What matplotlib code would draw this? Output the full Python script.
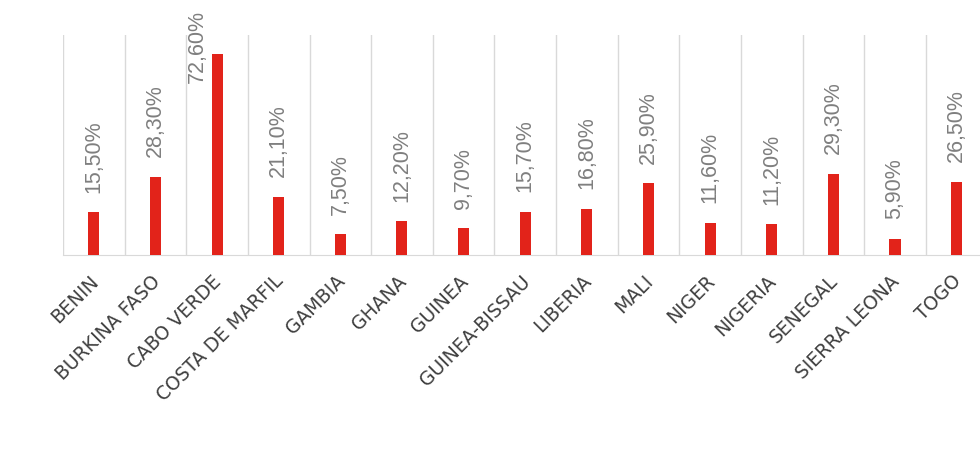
import matplotlib.pyplot as plt
import matplotlib.transforms as mtransforms

countries = ["BENIN", "BURKINA FASO", "CABO VERDE", "COSTA DE MARFIL", "GAMBIA",
             "GHANA", "GUINEA", "GUINEA-BISSAU", "LIBERIA", "MALI", "NIGER",
             "NIGERIA", "SENEGAL", "SIERRA LEONA", "TOGO"]
values = [15.5, 28.3, 72.6, 21.1, 7.5, 12.2, 9.7, 15.7, 16.8, 25.9, 11.6,
          11.2, 29.3, 5.9, 26.5]
labels = [f"{v:.2f}%".replace(".", ",") for v in values]

fig = plt.figure(figsize=(9.8, 4.5), dpi=100)
ax = fig.add_axes([63 / 980, 195 / 450, 917 / 980, 220 / 450])

x = range(len(countries))
ax.bar(x, values, width=0.18, color="#E2231A", zorder=3)

# category separators
for b in range(len(countries) + 1):
    ax.axvline(b - 0.5, color="#d9d9d9", lw=1, zorder=1)

top = max(values)
for xi, v, lab in zip(x, values, labels):
    # the tallest label doesn't fit above the bar, so it goes beside it
    off = (-14.5, -21) if v == top else (0, 14)
    ax.annotate(lab, (xi, v), xytext=off, textcoords="offset points",
                rotation=90, ha="center", va="bottom", fontsize=15.5,
                color="#7f7f7f", family="Liberation Sans")

ax.set_xlim(-0.5, 14.38)
ax.set_ylim(0, 79.5)
ax.set_yticks([])
ax.set_xticks(list(x))
ax.set_xticklabels(countries, rotation=45, ha="right", rotation_mode="anchor",
                   fontsize=13.5, color="#404040")
ax.tick_params(axis="x", length=0, pad=12)
shift = mtransforms.ScaledTranslation(-5 / 100, 0, fig.dpi_scale_trans)
for t in ax.get_xticklabels():
    t.set_transform(t.get_transform() + shift)
for side in ["top", "right", "left"]:
    ax.spines[side].set_visible(False)
ax.spines["bottom"].set_color("#d9d9d9")

fig.savefig("out.png", dpi=100)
